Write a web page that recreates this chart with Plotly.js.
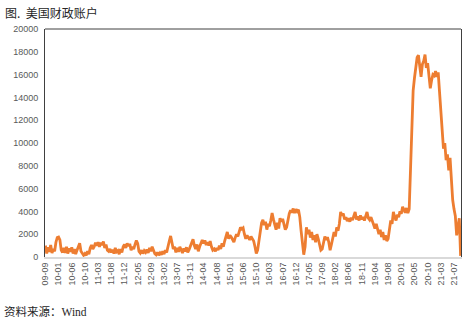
<!DOCTYPE html>
<html>
<head>
<meta charset="utf-8">
<script src="https://cdn.plot.ly/plotly-3.0.1.min.js"></script>
<style>html,body{margin:0;padding:0;background:#fff;}#chart{width:468px;height:318px;}</style>
</head>
<body>
<div id="chart"></div>
<script>
const tickLabels = ['09-09','10-01','10-06','10-10','11-03','11-08','11-12','12-05','12-09','13-02','13-07','13-11','14-04','14-08','15-01','15-06','15-10','16-03','16-07','16-12','17-05','17-09','18-02','18-06','18-11','19-04','19-08','20-01','20-05','20-10','21-03','21-07'];

// 美国财政账户 (亿美元), approx biweekly readings
const tgaValues = [
  1000, 300, 850, 450, 1050, 350, 700, 500, 1300, 1700,
  1750, 1500, 600, 400, 800, 350, 900, 300, 750, 450,
  850, 300, 700, 250, 600, 900, 1200, 500, 300, 150,
  300, 150, 500, 250, 800, 1050, 700, 900, 1250, 1000,
  1300, 900, 1250, 1050, 1350, 800, 1100, 600, 500, 700,
  400, 650, 300, 800, 450, 550, 250, 700, 400, 900,
  1100, 800, 1200, 950, 1150, 600, 900, 700, 1100, 1450,
  1200, 500, 350, 600, 300, 550, 400, 650, 350, 800,
  500, 900, 600, 300, 200, 400, 150, 350, 200, 500,
  250, 600, 400, 1000, 1400, 1850, 1200, 700, 900, 400,
  800, 450, 900, 600, 350, 750, 500, 850, 400, 650,
  900, 1200, 1550, 1000, 700, 1100, 500, 900, 1300, 1500,
  1200, 1450, 1050, 1300, 1000, 1400, 900, 600, 700, 500,
  800, 600, 1000, 700, 1200, 900, 1400, 1800, 2200, 1600,
  1900, 1750, 1500, 1300, 1700, 2000, 1800, 2300, 2600, 2450,
  2550, 2000, 1600, 1900, 1700, 1500, 1800, 1600, 1400, 900,
  300, 600, 1500, 2400, 3000, 3250, 2800, 3100, 2400, 2900,
  2700, 3200, 3850, 3300, 2800, 2400, 3000, 2500, 3400, 3100,
  3350, 2900, 2400, 2600, 3300, 3800, 4100, 3900, 4250, 3850,
  4200, 4000, 4150, 3500, 2300, 1100, 200, 900, 2600, 2000,
  2400, 1700, 2200, 1500, 1900, 1300, 2000, 1600, 900, 600,
  700, 1400, 1800, 1500, 1750, 1300, 600, 1100, 1800, 2200,
  1800, 2600, 2300, 2900, 3950, 3650, 3800, 3300, 3500, 3150,
  3400, 3100, 3450, 3250, 3600, 3950, 3300, 3550, 3200, 3650,
  3300, 3500, 3200, 3650, 3950, 3400, 3250, 3500, 3200, 2900,
  2500, 2900, 2300, 2000, 2400, 1750, 2200, 1500, 1900, 1400,
  1600, 2600, 3200, 2900, 3950, 3500, 3200, 3700, 3500, 4000,
  3800, 4400, 4100, 3900, 4300, 3850, 4200, 8300, 11300, 14600,
  15700, 16900, 17500, 17700, 16800, 15800, 16900, 17200, 17750, 16600,
  17000, 15600, 14800, 15500, 16000, 15900, 16300, 15800, 16200, 14500,
  12500, 10500, 9500, 10000, 8500, 9000, 7600, 8700, 6800, 5000,
  4200, 3600, 1900, 2700, 3400, 100
];

const xIdx = tgaValues.map((v, i) => i);
const tickVals = tickLabels.map((t, i) => i * 10);

const trace = {
  x: xIdx,
  y: tgaValues,
  type: 'scatter',
  mode: 'lines',
  line: {color: '#ED7D31', width: 2.8},
  hoverinfo: 'skip'
};

const layout = {
  width: 468,
  height: 318,
  margin: {l: 45, r: 7, t: 29, b: 61},
  paper_bgcolor: '#ffffff',
  plot_bgcolor: '#ffffff',
  showlegend: false,
  font: {family: 'Liberation Sans, Arial, sans-serif', size: 9, color: '#595959'},
  xaxis: {
    range: [-0.3, 315.3],
    tickvals: tickVals,
    ticktext: tickLabels,
    tickangle: -90,
    showgrid: false,
    zeroline: false,
    showline: true,
    linecolor: '#d9d9d9',
    linewidth: 2,
    ticks: '',
    tickfont: {size: 9, color: '#595959'}
  },
  yaxis: {
    range: [0, 20000],
    dtick: 2000,
    tickformat: 'd',
    showgrid: false,
    zeroline: false,
    showline: true,
    mirror: true,
    linecolor: '#404040',
    linewidth: 1,
    ticks: '',
    ticklabelstandoff: 4,
    tickfont: {size: 9, color: '#595959'}
  },
  shapes: [
    {type: 'line', xref: 'paper', yref: 'paper', x0: 0, x1: 1, y0: 1, y1: 1,
     line: {color: '#404040', width: 1}}
  ],
  annotations: [
    {text: '图.  美国财政账户', xref: 'paper', yref: 'paper', x: -42/416, y: 1 + 17/228,
     xanchor: 'left', yanchor: 'middle', showarrow: false,
     font: {family: 'Noto Sans CJK SC, sans-serif', size: 12, color: '#262626'}},
    {text: '资料来源：Wind', xref: 'paper', yref: 'paper', x: -43/416, y: -54/228,
     xanchor: 'left', yanchor: 'middle', showarrow: false,
     font: {family: 'Liberation Serif, Noto Sans CJK SC, serif', size: 11.5, color: '#262626'}}
  ]
};

Plotly.newPlot('chart', [trace], layout, {displayModeBar: false, staticPlot: true});
</script>
</body>
</html>
